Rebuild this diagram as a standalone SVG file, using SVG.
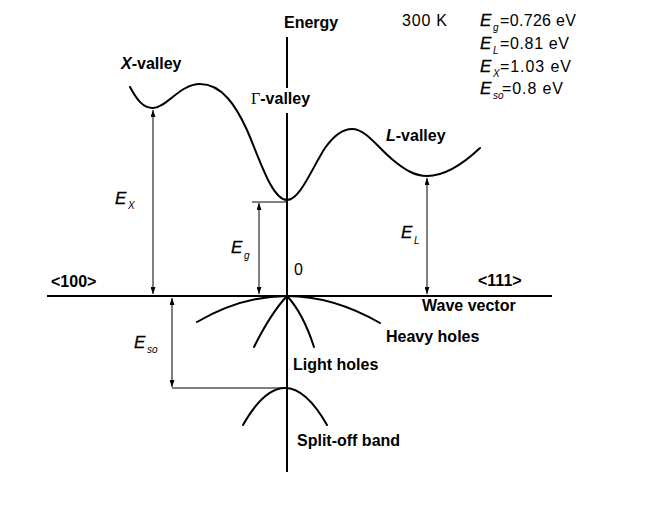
<svg xmlns="http://www.w3.org/2000/svg" width="660" height="510" viewBox="0 0 660 510">
<style>
.ax{stroke:#000;stroke-width:2;fill:none}
.cv{stroke:#000;stroke-width:2;fill:none;stroke-linecap:round;stroke-linejoin:round}
.ar{stroke:#000;stroke-width:1;fill:none}
.lb{font-family:"Liberation Sans",Arial,sans-serif;font-weight:bold;font-size:16px;fill:#000}
.rg{font-family:"Liberation Sans",Arial,sans-serif;font-size:16px;fill:#000}
.em{font-family:"Liberation Sans",Arial,sans-serif;font-style:italic;font-size:17px;fill:#000;stroke:#000;stroke-width:0.3}
.sb{font-family:"Liberation Sans",Arial,sans-serif;font-style:italic;font-size:10px;fill:#000}
</style>
<defs>
<marker id="ah" viewBox="0 0 7 5" refX="7" refY="2.5" markerWidth="7" markerHeight="5" markerUnits="userSpaceOnUse" orient="auto-start-reverse">
<path d="M0,0 L7,2.5 L0,5 z" fill="#000"/>
</marker>
</defs>
<rect width="660" height="510" fill="#fff"/>
<g id="axes">
<line class="ax" x1="287" y1="37" x2="287" y2="88"/>
<line class="ax" x1="287" y1="113" x2="287" y2="472"/>
<line class="ax" x1="47" y1="296" x2="552" y2="296"/>
</g>
<g id="conduction-band">
<path class="cv" d="M130,87 C137,100 143,108 153,108 C166,108 180,84 200,84 C222,84 236,106 247,130 C260,160 272,200 287,200 C300,200 312,168 325,148 C335,134 343,129 352,129 C366,129 378,148 393,160 C405,170 415,176 427,176 C445,176 462,165 480,148"/>
</g>
<g id="valence-bands">
<path class="cv" d="M197,322 Q242,296 287,296 Q333,296 380,323"/>
<path class="cv" d="M254,347 Q271,313 287,296 Q303,313 314,347"/>
<path class="cv" d="M243,425 Q285,351 327,425"/>
</g>
<g id="connectors">
<line class="ar" x1="153" y1="110" x2="153" y2="294" marker-start="url(#ah)" marker-end="url(#ah)"/>
<line class="ar" x1="252" y1="202" x2="287" y2="202"/>
<line class="ar" x1="259" y1="203" x2="259" y2="294" marker-start="url(#ah)" marker-end="url(#ah)"/>
<line class="ar" x1="427" y1="178" x2="427" y2="294" marker-start="url(#ah)" marker-end="url(#ah)"/>
<line class="ar" x1="172" y1="298" x2="172" y2="387" marker-start="url(#ah)" marker-end="url(#ah)"/>
<line class="ar" x1="172" y1="388" x2="287" y2="388"/>
</g>
<g id="labels">
<text class="lb" x="284" y="28">Energy</text>
<text class="lb" x="121" y="69"><tspan font-style="italic">X</tspan>-valley</text>
<text class="lb" x="251" y="104"><tspan font-family="'Liberation Serif','Times New Roman',serif" font-weight="normal">Γ</tspan>-valley</text>
<text class="lb" x="386" y="141"><tspan font-style="italic">L</tspan>-valley</text>
<text class="lb" x="51" y="287">&lt;100&gt;</text>
<text class="lb" x="478" y="286">&lt;111&gt;</text>
<text class="lb" x="422" y="311">Wave vector</text>
<text class="lb" x="386" y="342">Heavy holes</text>
<text class="lb" x="293" y="370">Light holes</text>
<text class="lb" x="297" y="446">Split-off band</text>
<text class="rg" x="294" y="275">0</text>
</g>
<g id="energy-labels">
<text class="em" x="115" y="204">E</text><text class="sb" x="128" y="209">X</text>
<text class="em" x="231" y="253">E</text><text class="sb" x="244" y="259">g</text>
<text class="em" x="401" y="238">E</text><text class="sb" x="414" y="244">L</text>
<text class="em" x="134" y="348">E</text><text class="sb" x="147" y="353">so</text>
</g>
<g id="legend">
<text class="rg" x="402" y="26" textLength="45" lengthAdjust="spacing">300 K</text>
<text class="em" x="480" y="26">E</text><text class="sb" x="493" y="31">g</text>
<text class="rg" x="500" y="26" textLength="76" lengthAdjust="spacing">=0.726 eV</text>
<text class="em" x="480" y="49">E</text><text class="sb" x="493" y="54">L</text>
<text class="rg" x="500" y="49" textLength="69" lengthAdjust="spacing">=0.81 eV</text>
<text class="em" x="480" y="72">E</text><text class="sb" x="493" y="77">X</text>
<text class="rg" x="500" y="72" textLength="71" lengthAdjust="spacing">=1.03 eV</text>
<text class="em" x="480" y="94">E</text><text class="sb" x="493" y="99" font-size="8">so</text>
<text class="rg" x="502" y="94" textLength="61" lengthAdjust="spacing">=0.8 eV</text>
</g>
</svg>
